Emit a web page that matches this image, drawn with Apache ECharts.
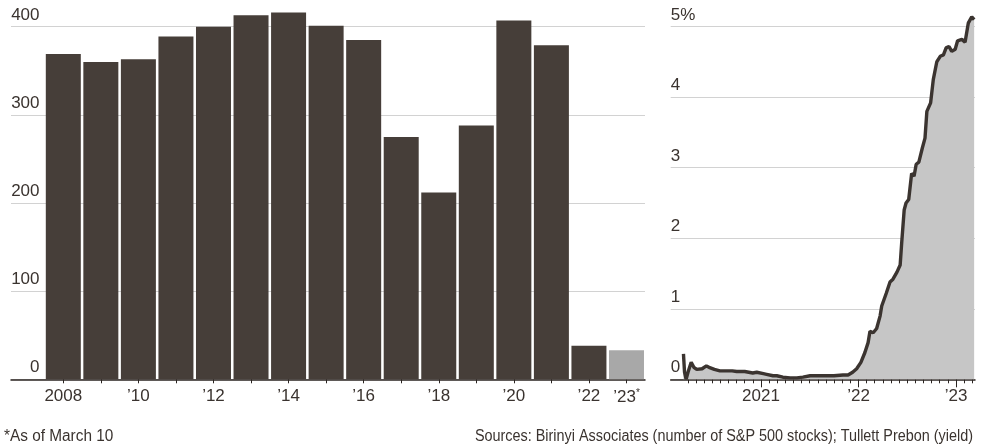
<!DOCTYPE html>
<html>
<head>
<meta charset="utf-8">
<script src="https://cdn.jsdelivr.net/npm/echarts@6/dist/echarts.min.js"></script>
<style>
html,body{margin:0;padding:0;background:#fff;}
#c{width:990px;height:445px;}
</style>
</head>
<body>
<div id="c"></div>
<script>
// ---- Data: number of S&P 500 stocks (left) ----
var years = [2008,2009,2010,2011,2012,2013,2014,2015,2016,2017,2018,2019,2020,2021,2022,2023];
var stockCounts = [369,360,363,389,400,413,416,401,385,275,212,288,407,379,38,33];
var yearLabels = [2008,2010,2012,2014,2016,2018,2020,2022,2023];
var leftTicks = [0,100,200,300,400];

// ---- Data: yield, % (right) ----
var yieldDates = ['2020-03-16','2020-03-20','2020-03-26','2020-04-02','2020-04-14','2020-04-24','2020-05-05','2020-05-25','2020-06-10','2020-06-20','2020-07-10','2020-07-31','2020-08-20','2020-09-15','2020-10-02','2020-11-01','2020-12-01','2020-12-16','2021-01-10','2021-01-22','2021-02-15','2021-03-01','2021-03-24','2021-04-20','2021-05-15','2021-06-07','2021-07-04','2021-08-01','2021-09-01','2021-10-01','2021-11-04','2021-11-23','2021-12-10','2021-12-25','2022-01-10','2022-01-25','2022-02-06','2022-02-13','2022-02-25','2022-03-10','2022-03-23','2022-03-29','2022-04-15','2022-04-29','2022-05-10','2022-05-25','2022-06-06','2022-06-12','2022-06-21','2022-06-28','2022-07-08','2022-07-19','2022-07-28','2022-08-05','2022-08-15','2022-08-28','2022-09-07','2022-09-14','2022-09-28','2022-10-08','2022-10-21','2022-11-03','2022-11-15','2022-11-25','2022-12-06','2022-12-16','2022-12-29','2023-01-07','2023-01-23','2023-02-04','2023-02-16','2023-03-01','2023-03-10'];
var yieldValues = [0.36,0.10,0.00,0.10,0.24,0.17,0.14,0.15,0.19,0.17,0.14,0.12,0.12,0.12,0.11,0.11,0.09,0.10,0.08,0.07,0.05,0.05,0.03,0.02,0.02,0.03,0.05,0.05,0.05,0.05,0.06,0.06,0.10,0.15,0.24,0.38,0.52,0.68,0.66,0.72,0.90,1.04,1.22,1.38,1.42,1.52,1.62,1.95,2.40,2.50,2.55,2.92,2.88,3.05,3.08,3.28,3.42,3.80,3.92,4.25,4.50,4.58,4.60,4.70,4.72,4.65,4.68,4.80,4.82,4.78,5.05,5.14,5.10];
var rightTicks = [0,1,2,3,4,5];
var rightYearLabels = [2021,2022,2023];

// helpers
function fracYear(s){
  var p = s.split('-'); var y=+p[0];
  var d = Date.UTC(y,+p[1]-1,+p[2]); var s0 = Date.UTC(y,0,1), s1 = Date.UTC(y+1,0,1);
  return y + (d-s0)/(s1-s0);
}
var yieldData = yieldDates.map(function(d,i){return [fracYear(d), yieldValues[i]];});
var monthTicks = [];
for (var y=2020; y<=2023; y++) for (var m=0; m<12; m++){
  var v = y + m/12;
  if (v >= 2020 + 3/12 - 1e-9 && v <= 2023 + 2/12 + 1e-9) monthTicks.push(v);
}
var barData = years.map(function(y,i){
  return {value:[y, stockCounts[i]], itemStyle:{color: y===2023 ? '#a8a8a8' : '#463e39'}};
});

var TXT = '#3a332f';
var FONT = '"Liberation Sans", Arial, sans-serif';

var chart = echarts.init(document.getElementById('c'), null, {renderer:'canvas'});
chart.setOption({
  animation:false,
  backgroundColor:'#fff',
  grid:[
    {left:11, right:345, top:26.7, bottom:65.7},
    {left:670.7, right:15, top:26.7, bottom:65.7}
  ],
  xAxis:[
    {gridIndex:0, type:'value', min:2006.607, max:2023.493, position:'bottom',
     axisLine:{show:true, lineStyle:{color:'#2b2522', width:1.5}},
     axisTick:{show:true, customValues:years, length:4, lineStyle:{color:'#2b2522', width:1}},
     axisLabel:{customValues:yearLabels, margin:9, color:TXT, fontFamily:FONT, fontSize:17,
       formatter:function(v){
         if (v===2008) return '2008';
         if (v===2023) return '{a|\u201923}{s|*}';
         return '\u2019' + String(v).slice(2);
       },
       rich:{a:{fontSize:17, color:TXT, fontFamily:FONT}, s:{fontSize:10, color:TXT, fontFamily:FONT, padding:[0,0,8,0]}}},
     splitLine:{show:false}},
    {gridIndex:1, type:'value', min:2020.074, max:2023.195, position:'bottom',
     axisLine:{show:true, lineStyle:{color:'#2b2522', width:1.5}},
     axisTick:{show:true, customValues:monthTicks, length:4, lineStyle:{color:'#2b2522', width:1}},
     axisLabel:{customValues:rightYearLabels, margin:9, color:TXT, fontFamily:FONT, fontSize:17,
       formatter:function(v){ var r=Math.round(v); return r===2021 ? '2021' : '\u2019'+String(r).slice(2); }},
     splitLine:{show:false}},
    {gridIndex:1, type:'value', min:2020.074, max:2023.195, position:'bottom', offset:0,
     axisLine:{show:false},
     axisTick:{show:true, customValues:rightYearLabels, length:8, lineStyle:{color:'#2b2522', width:1}},
     axisLabel:{show:false}, splitLine:{show:false}}
  ],
  yAxis:[
    {gridIndex:0, type:'value', min:0, max:400, interval:100,
     axisLine:{show:false}, axisTick:{show:false},
     axisLabel:{inside:true, align:'right', margin:28.5, verticalAlign:'bottom', padding:[0,0,3,0],
       color:TXT, fontFamily:FONT, fontSize:17},
     splitLine:{show:true, lineStyle:{color:'#d2d2d2', width:1.2}}},
    {gridIndex:1, type:'value', min:0, max:5, interval:1,
     axisLine:{show:false}, axisTick:{show:false},
     axisLabel:{inside:true, align:'left', margin:0, verticalAlign:'bottom', padding:[0,0,3,0],
       color:TXT, fontFamily:FONT, fontSize:17,
       formatter:function(v){ return v===5 ? '5%' : String(v); }},
     splitLine:{show:true, lineStyle:{color:'#d2d2d2', width:1.2}}}
  ],
  series:[
    {type:'bar', xAxisIndex:0, yAxisIndex:0, data:barData, barWidth:35, clip:false},
    {type:'line', xAxisIndex:1, yAxisIndex:1, data:yieldData, showSymbol:false, symbol:'none', clip:false,
     lineStyle:{color:'#3b3430', width:3.4}, areaStyle:{color:'#c6c6c6', opacity:1}}
  ],
  graphic:[
    {type:'text', x:4, y:437, scaleX:0.96, scaleY:1,
     style:{x:0, y:0, text:'*As of March 10', fill:TXT, font:'16px '+FONT, align:'left', verticalAlign:'middle'}},
    {type:'text', x:973, y:437, scaleX:0.9, scaleY:1,
     style:{x:0, y:0, text:'Sources: Birinyi Associates (number of S&P 500 stocks); Tullett Prebon (yield)', fill:TXT, font:'16px '+FONT, align:'right', verticalAlign:'middle'}}
  ]
});
</script>
</body>
</html>
